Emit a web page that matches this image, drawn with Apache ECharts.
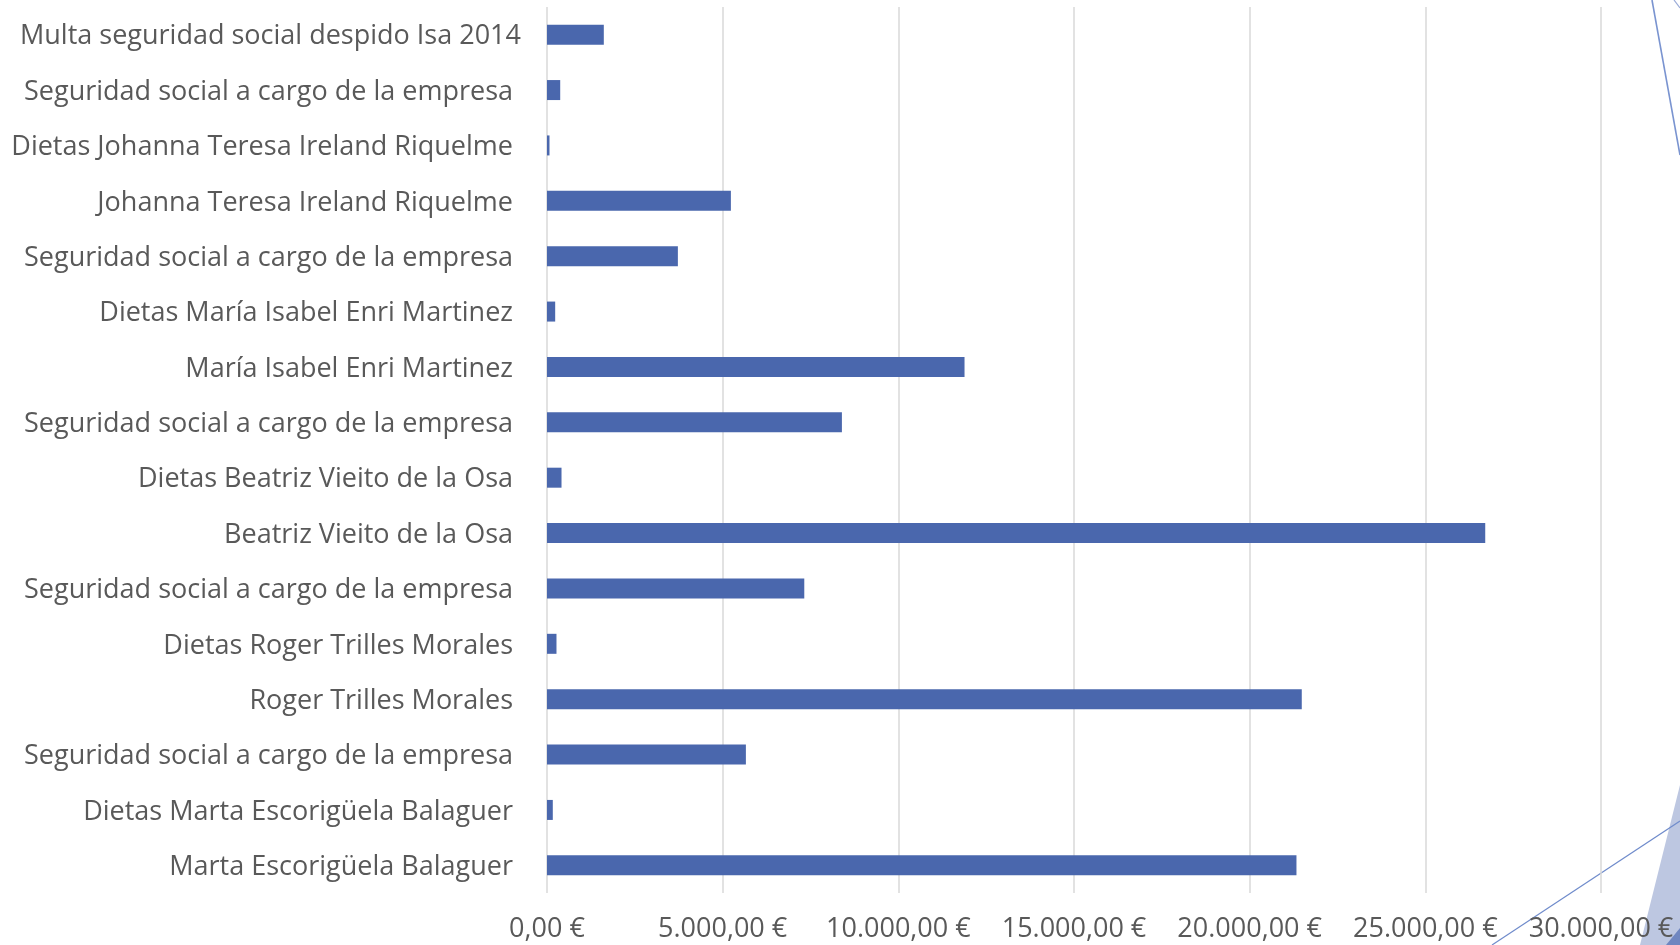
<!DOCTYPE html>
<html>
<head>
<meta charset="utf-8">
<script src="https://cdn.jsdelivr.net/npm/echarts@6/dist/echarts.min.js"></script>
<style>
  html, body { margin: 0; padding: 0; background: #fff; }
  #chart { width: 1680px; height: 945px; }
</style>
</head>
<body>
<div id="chart"></div>
<script>
// categorías, de arriba a abajo
const categories = [
  'Multa seguridad social despido Isa 2014',
  'Seguridad social a cargo de la empresa',
  'Dietas Johanna Teresa Ireland Riquelme',
  'Johanna Teresa Ireland Riquelme',
  'Seguridad social a cargo de la empresa',
  'Dietas María Isabel Enri Martinez',
  'María Isabel Enri Martinez',
  'Seguridad social a cargo de la empresa',
  'Dietas Beatriz Vieito de la Osa',
  'Beatriz Vieito de la Osa',
  'Seguridad social a cargo de la empresa',
  'Dietas Roger Trilles Morales',
  'Roger Trilles Morales',
  'Seguridad social a cargo de la empresa',
  'Dietas Marta Escorigüela Balaguer',
  'Marta Escorigüela Balaguer'
];

// importes en euros
const importes = [
  1617, 376, 71, 5234, 3725, 233, 11884, 8394,
  413, 26705, 7323, 270, 21483, 5661, 165, 21332
];

// marcas del eje x
const xMin = 0;
const xMax = 30000;
const xStep = 5000;

// formato español: 5.000,00 €
const formatEuro = (v) => {
  const parts = v.toFixed(2).split('.');
  const entero = parts[0].replace(/\B(?=(\d{3})+(?!\d))/g, '.');
  return entero + ',' + parts[1] + ' €';
};

const labelFont = 'Open Sans';
const labelSize = 27;

const chart = echarts.init(document.getElementById('chart'));

const option = {
  backgroundColor: '#ffffff',
  animation: false,
  grid: {
    left: 547,
    right: 79,
    top: 7,
    bottom: 52
  },
  xAxis: {
    type: 'value',
    min: xMin,
    max: xMax,
    interval: xStep,
    axisLine: { show: false },
    axisTick: { show: false },
    axisLabel: {
      formatter: formatEuro,
      color: '#595959',
      fontFamily: labelFont,
      fontSize: labelSize,
      margin: 23
    },
    splitLine: {
      show: true,
      lineStyle: { color: '#d9d9d9', width: 1.5 }
    }
  },
  yAxis: {
    type: 'category',
    data: categories,
    inverse: true,
    axisLine: { show: false },
    axisTick: { show: false },
    axisLabel: {
      // la primera etiqueta queda algo más pegada al eje
      formatter: (v, i) => (i === 0 ? '{a|' + v + '}' : '{b|' + v + '}'),
      margin: 26,
      rich: {
        a: { color: '#595959', fontFamily: labelFont, fontSize: labelSize, padding: [4, 0, 0, 0] },
        b: { color: '#595959', fontFamily: labelFont, fontSize: labelSize, padding: [4, 8, 0, 0] }
      }
    }
  },
  series: [
    {
      type: 'bar',
      data: importes,
      barWidth: 20,
      itemStyle: { color: '#4a67ad' }
    }
  ],
  // decoración de la diapositiva (esquina derecha)
  graphic: [
    {
      type: 'polygon',
      z: -1,
      shape: { points: [[1640, 945], [1680, 785], [1680, 945]] },
      style: { fill: '#bdc7e1' }
    },
    {
      type: 'polygon',
      z: -1,
      shape: { points: [[1666, 945], [1680, 928], [1680, 945]] },
      style: { fill: '#6f86c0' }
    },
    {
      type: 'line',
      z: -1,
      shape: { x1: 1492, y1: 945, x2: 1680, y2: 821 },
      style: { stroke: '#6f8bcb', lineWidth: 1.2 }
    },
    {
      type: 'line',
      z: -1,
      shape: { x1: 1652, y1: 0, x2: 1680, y2: 155 },
      style: { stroke: '#7a94d0', lineWidth: 1.6 }
    },
    {
      type: 'line',
      z: -1,
      shape: { x1: 1674, y1: 0, x2: 1680, y2: 8 },
      style: { stroke: '#9aabd8', lineWidth: 1.2 }
    }
  ]
};

chart.setOption(option);
</script>
</body>
</html>
